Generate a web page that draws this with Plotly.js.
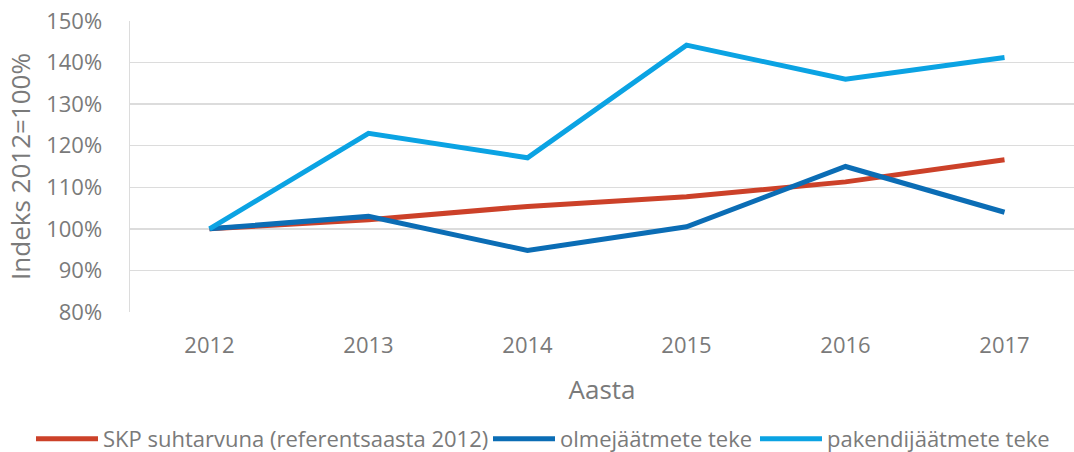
<!DOCTYPE html>
<html>
<head>
<meta charset="utf-8">
<script src="https://cdn.plot.ly/plotly-3.0.1.min.js"></script>
<style>html,body{margin:0;padding:0;background:#fff}#chart{width:1074px;height:452px}</style>
</head>
<body>
<div id="chart"></div>
<script>
const years = ['2012', '2013', '2014', '2015', '2016', '2017'];
const skp = [100, 102.2, 105.4, 107.7, 111.3, 116.6];
const olme = [100, 103.0, 94.8, 100.5, 115.0, 104.0];
const pakend = [100, 123.0, 117.1, 144.2, 136.0, 141.2];
const seriesNames = ['SKP suhtarvuna (referentsaasta 2012)', 'olmejäätmete teke', 'pakendijäätmete teke'];
const yTicks = [80, 90, 100, 110, 120, 130, 140, 150];
const yTickLabels = ['80%', '90%', '100%', '110%', '120%', '130%', '140%', '150%'];

const colors = ['#CC4129', '#0B6DB5', '#0BA3E3'];
const legendIds = ['legend', 'legend2', 'legend3'];
const legendX = [31, 488, 755];
const series = [skp, olme, pakend];
const traces = series.map((s, i) => ({
  x: years, y: s, type: 'scatter', mode: 'lines', name: seriesNames[i],
  legend: legendIds[i],
  line: {color: colors[i], width: 5}
}));

const gray = '#7a7a7a';
const layout = {
  width: 1074, height: 452,
  margin: {l: 130, r: 0, t: 21, b: 140},
  paper_bgcolor: '#fff', plot_bgcolor: '#fff',
  font: {family: 'Open Sans, sans-serif', color: gray, size: 22},
  showlegend: true,
  xaxis: {
    type: 'category', range: [-0.5, 5.437],
    showgrid: false, zeroline: false, showline: false,
    ticks: 'outside', ticklen: 14, tickcolor: 'rgba(0,0,0,0)',
    tickfont: {size: 22, color: gray},
    title: {text: 'Aasta', font: {size: 26, color: gray}, standoff: 22},
    automargin: false
  },
  yaxis: {
    range: [80, 150], tickmode: 'array', tickvals: yTicks, ticktext: yTickLabels,
    showgrid: true, gridcolor: '#dcdcdc', gridwidth: 1.5,
    zeroline: false, showline: true, linecolor: '#dcdcdc', linewidth: 1.5,
    ticks: 'outside', ticklen: 22, tickcolor: 'rgba(0,0,0,0)',
    tickfont: {size: 22, color: gray},
    title: {text: 'Indeks 2012=100%', font: {size: 26, color: gray}, standoff: 8},
    automargin: false
  }
};
legendIds.forEach((id, i) => {
  layout[id] = {
    orientation: 'h', xref: 'container', yref: 'container',
    x: legendX[i] / 1074, xanchor: 'left', y: 0.029, yanchor: 'middle',
    font: {size: 22, color: gray}, itemwidth: 62, bgcolor: 'rgba(0,0,0,0)'
  };
});
Plotly.newPlot('chart', traces, layout, {displayModeBar: false, staticPlot: true});
</script>
</body>
</html>
